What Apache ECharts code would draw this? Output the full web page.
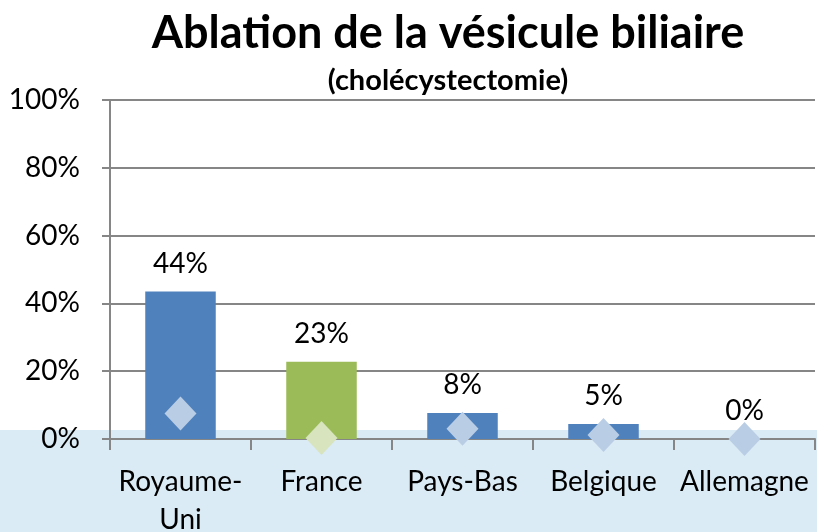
<!DOCTYPE html>
<html>
<head>
<meta charset="utf-8">
<script src="https://cdn.jsdelivr.net/npm/echarts@6/dist/echarts.min.js"></script>
<style>
  html, body { margin: 0; padding: 0; background: #fff; }
  #chart { width: 817px; height: 532px; }
</style>
</head>
<body>
<div id="chart"></div>
<script>
// donnees
var pays = ['Royaume-\nUni', 'France', 'Pays-Bas', 'Belgique', 'Allemagne'];
var valeurs = [43.5, 22.8, 7.7, 4.4, 0];
var etiquettes = ['44%', '23%', '8%', '5%', '0%'];
var losanges = [7.5, 0.3, 3, 1.2, 0];
var couleursBarres = ['#4F81BD', '#9BBB59', '#4F81BD', '#4F81BD', '#4F81BD'];
var couleursLosanges = ['#B9CDE5', '#D7E4BD', '#B9CDE5', '#B9CDE5', '#B9CDE5'];

var police = 'Lato, "Open Sans", sans-serif';

var myChart = echarts.init(document.getElementById('chart'));

var option = {
    animation: false,
    title: {
        text: 'Ablation de la vésicule biliaire',
        subtext: '(cholécystectomie)',
        left: 443,
        top: 6,
        textAlign: 'center',
        itemGap: 10,
        textStyle: { fontFamily: police, fontSize: 45, fontWeight: 'bold', color: '#000' },
        subtextStyle: { fontFamily: police, fontSize: 29, fontWeight: 'bold', color: '#000' }
    },
    graphic: [{
        type: 'rect',
        z: -10,
        silent: true,
        shape: { x: 0, y: 430, width: 817, height: 102 },
        style: { fill: '#DBEBF5' }
    }],
    grid: { left: 110, right: 2, top: 100, bottom: 93, outerBoundsMode: 'none', containLabel: false },
    xAxis: {
        type: 'category',
        data: pays,
        axisLine: { lineStyle: { color: '#868686', width: 2 } },
        axisTick: { show: true, length: 11, lineStyle: { color: '#868686', width: 2 } },
        axisLabel: { fontFamily: police, fontSize: 28, color: '#000', margin: 24, lineHeight: 38, interval: 0 }
    },
    yAxis: {
        type: 'value',
        min: 0,
        max: 100,
        interval: 20,
        axisLine: { show: true, lineStyle: { color: '#868686', width: 2 } },
        axisTick: { show: true, length: 8, lineStyle: { color: '#868686', width: 2 } },
        splitLine: { lineStyle: { color: '#868686', width: 2 } },
        axisLabel: { fontFamily: police, fontSize: 28, color: '#000', margin: 30, formatter: '{value}%' }
    },
    series: [{
        type: 'bar',
        barWidth: '50%',
        data: valeurs.map(function (v, i) {
            return { value: v, itemStyle: { color: couleursBarres[i] } };
        }),
        label: {
            show: true,
            position: 'top',
            distance: 14,
            fontFamily: police,
            fontSize: 28,
            color: '#000',
            formatter: function (p) { return etiquettes[p.dataIndex]; }
        },
        z: 2
    }, {
        type: 'scatter',
        symbol: 'diamond',
        symbolSize: [32, 34],
        data: losanges.map(function (v, i) {
            return { value: v, itemStyle: { color: couleursLosanges[i], opacity: 1 } };
        }),
        z: 3
    }]
};

myChart.setOption(option);
</script>
</body>
</html>
